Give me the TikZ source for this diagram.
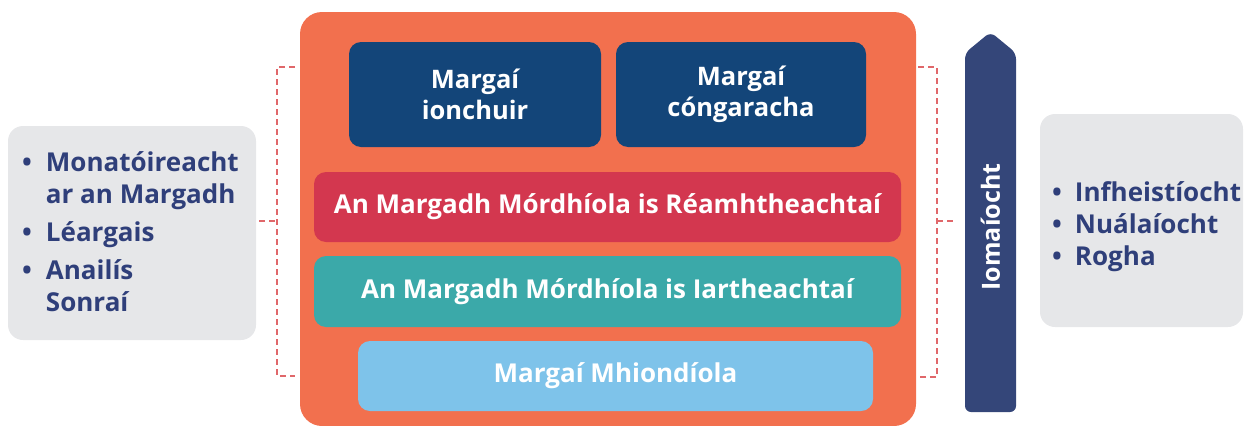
\documentclass[tikz,border=0pt]{standalone}
\usepackage{fontspec}
\setmainfont{Open Sans}
\usepackage{tikz}
\usetikzlibrary{positioning,calc}

\definecolor{orangebg}{HTML}{F2704E}
\definecolor{navybox}{HTML}{134579}
\definecolor{redbar}{HTML}{D3374F}
\definecolor{tealbar}{HTML}{3BA9A9}
\definecolor{skybar}{HTML}{7EC3EA}
\definecolor{greybg}{HTML}{E6E7E9}
\definecolor{listtxt}{HTML}{2F3F7A}
\definecolor{arrowbar}{HTML}{344679}
\definecolor{brk}{HTML}{E0676A}

\begin{document}
\begin{tikzpicture}
	[x=1pt,y=-1pt,
	box/.style={rectangle,rounded corners=12pt,inner sep=0pt,text=white,font=\bfseries\fontsize{25.5}{31}\selectfont,align=center},
	bar/.style={box,font=\bfseries\fontsize{26}{31}\selectfont},
	side/.style={rectangle,rounded corners=15pt,fill=greybg,inner sep=0pt},
	lst/.style={inner sep=0pt,text=listtxt,font=\bfseries\fontsize{26}{32}\selectfont},
	bracket/.style={draw=brk,line width=1.5pt,dash pattern=on 6pt off 4pt}]
	\useasboundingbox (0,0) rectangle (1254,426);
	%%%%% MARKET BLOCK
	\node[rectangle,rounded corners=22pt,fill=orangebg,minimum width=616pt,minimum height=414pt] (market) at (608,219) {};
	\node[box,fill=navybox,minimum width=252pt,minimum height=105pt] (input) at (475,94.5) {Margaí\\ionchuir};
	\node[box,fill=navybox,minimum width=250pt,minimum height=105pt] (adjacent) at (741,94.5) {Margaí\\cóngaracha};
	\node[bar,fill=redbar,minimum width=587pt,minimum height=70pt] (upstream) at (607.5,207) {An Margadh Mórdhíola is Réamhtheachtaí};
	\node[bar,fill=tealbar,minimum width=587pt,minimum height=71pt] (downstream) at (607.5,291.5) {An Margadh Mórdhíola is Iartheachtaí};
	\node[bar,fill=skybar,minimum width=515pt,minimum height=70pt] (retail) at (615.5,376) {Margaí Mhiondíola};
	%%%%% SIDE BOXES
	\node[side,minimum width=248pt,minimum height=214pt] (lbox) at (132,233) {};
	\node[lst,anchor=west] (ltext) at (22,235) {\begin{tabular}{@{}l@{\hspace{14pt}}l@{}}
		\textbullet & Monatóireacht\\ & ar an Margadh\\[6pt]
		\textbullet & Léargais\\[6pt]
		\textbullet & Anailís\\ & Sonraí
	\end{tabular}};
	\node[side,minimum width=203pt,minimum height=213pt] (rbox) at (1141.5,220.5) {};
	\node[lst,anchor=west] (rtext) at (1052,227) {\begin{tabular}{@{}l@{\hspace{13pt}}l@{}}
		\textbullet & Infheistíocht\\
		\textbullet & Nuálaíocht\\
		\textbullet & Rogha
	\end{tabular}};
	%%%%% COMPETITION ARROW
	\path[fill=arrowbar,rounded corners=6pt] (965,412) -- (965,53) -- (990.5,32) -- (1016,53) -- (1016,412) -- cycle;
	\node[rotate=90,text=white,font=\bfseries\fontsize{25}{30}\selectfont,inner sep=0pt] (compete) at (990.5,227) {Iomaíocht};
	%%%%% BRACKETS
	\coordinate (lmid) at (277,221);
	\coordinate (rmid) at (937,221);
	\draw[bracket] (295,67) -- (277,67) -- (277,376) -- (295,376);
	\draw[bracket] (259,221) -- (lmid);
	\draw[bracket] (918,67) -- (937,67) -- (937,377) -- (918,377);
	\draw[bracket] (rmid) -- (956,221);
\end{tikzpicture}
\end{document}
